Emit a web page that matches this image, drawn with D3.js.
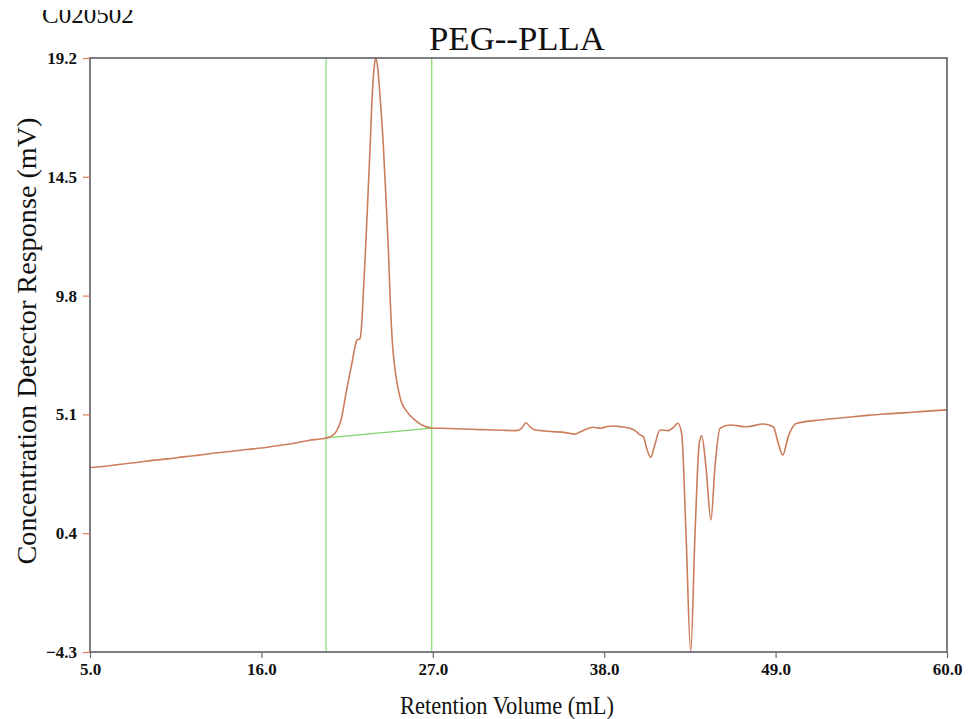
<!DOCTYPE html>
<html>
<head>
<meta charset="utf-8">
<script src="https://cdn.jsdelivr.net/npm/d3@7"></script>
<style>
  body { margin: 0; background: #fff; }
  text { font-family: "Liberation Serif", "Times New Roman", serif; fill: #111; }
</style>
</head>
<body>
<svg id="chart" width="968" height="719"></svg>
<script>
// retention volume (mL) and detector response (mV)
const volume = [5.0, 6.0, 7.0, 8.0, 9.0, 10.0, 11.0, 12.0, 13.0, 14.0, 15.0, 16.0, 17.0, 18.0, 19.1, 19.8, 20.15,
  20.5, 20.83, 21.1, 21.47, 21.81, 22.0, 22.13, 22.33, 22.44, 22.55, 22.68, 22.82, 22.97, 23.12, 23.25, 23.34,
  23.45, 23.6, 23.82, 24.0, 24.15, 24.27, 24.4, 24.55, 24.75, 24.95, 25.35, 25.8, 26.3, 26.93,
  27.5, 28.5, 29.4, 30.5, 31.5, 32.38, 32.7, 32.98, 33.25, 33.56, 34.73, 35.5, 36.13, 36.45, 37.0, 37.3, 37.73,
  38.2, 38.58, 39.2, 39.66, 40.0, 40.3, 40.51, 40.75, 40.98, 41.25, 41.58, 42.11, 42.5, 42.72, 42.97, 43.25,
  43.55, 43.83, 44.1, 44.26, 44.53, 44.85, 45.11, 45.43, 46.07, 47.15, 48.21, 48.85, 49.17, 49.46, 49.81,
  50.35, 51.85, 53.0, 53.99, 55.0, 56.13, 57.2, 58.27, 59.2, 60.0];
const response = [3.00, 3.05, 3.13, 3.20, 3.28, 3.34, 3.42, 3.49, 3.57, 3.63, 3.71, 3.77, 3.86, 3.95, 4.08, 4.13, 4.17,
  4.24, 4.45, 4.85, 6.07, 7.13, 7.75, 8.04, 8.10, 8.70, 10.0, 11.6, 13.5, 15.6, 17.8, 18.9, 19.2,
  18.9, 17.8, 15.8, 13.6, 11.6, 9.6, 8.0, 7.0, 6.2, 5.65, 5.2, 4.9, 4.68, 4.56,
  4.55, 4.53, 4.51, 4.49, 4.47, 4.46, 4.55, 4.77, 4.60, 4.48, 4.42, 4.38, 4.32, 4.40, 4.55, 4.59, 4.55,
  4.62, 4.64, 4.60, 4.55, 4.45, 4.29, 4.22, 3.70, 3.40, 3.90, 4.48, 4.46, 4.62, 4.75, 4.35, 0.40,
  -4.30, 0.40, 3.96, 4.25, 3.03, 0.92, 3.03, 4.55, 4.68, 4.61, 4.72, 4.61, 3.96, 3.49, 4.22,
  4.75, 4.88, 4.95, 5.01, 5.07, 5.12, 5.16, 5.21, 5.25, 5.28];

const xTicks = [5.0, 16.0, 27.0, 38.0, 49.0, 60.0];
const yTicks = [-4.3, 0.4, 5.1, 9.8, 14.5, 19.2];
const peakLimits = [20.15, 26.93];          // integration limits (green)
const peakBaseline = [[20.15, 4.17], [26.93, 4.56]];

const margin = {top: 58, right: 21, bottom: 67, left: 90};
const W = 968, H = 719;

const svg = d3.select("#chart");

const x = d3.scaleLinear().domain([5, 60]).range([margin.left, W - margin.right]);
const y = d3.scaleLinear().domain([-4.3, 19.2]).range([H - margin.bottom, margin.top]);

// sample id, cut off at the top of the scan
svg.append("clipPath").attr("id", "topcut")
  .append("rect").attr("x", 0).attr("y", 10).attr("width", 300).attr("height", 30);
svg.append("text")
  .attr("x", 42).attr("y", 23)
  .attr("clip-path", "url(#topcut)")
  .style("font-size", "25px")
  .text("C020502");

svg.append("text")
  .attr("x", 517).attr("y", 50)
  .attr("text-anchor", "middle")
  .attr("textLength", 176).attr("lengthAdjust", "spacingAndGlyphs")
  .style("font-size", "34px")
  .text("PEG--PLLA");

// green integration marks
const g = svg.append("g");
g.selectAll(".limit")
  .data(peakLimits)
  .join("line")
    .attr("class", "limit")
    .attr("x1", d => x(d)).attr("x2", d => x(d))
    .attr("y1", y(19.2)).attr("y2", y(-4.3))
    .attr("stroke", "#8edc78").attr("stroke-width", 1.3);
g.append("line")
  .attr("x1", x(peakBaseline[0][0])).attr("y1", y(peakBaseline[0][1]))
  .attr("x2", x(peakBaseline[1][0])).attr("y2", y(peakBaseline[1][1]))
  .attr("stroke", "#7fd46a").attr("stroke-width", 1.3);

// trace
const line = d3.line()
  .curve(d3.curveMonotoneX)
  .x((d, i) => x(volume[i]))
  .y(d => y(d));

g.append("path")
  .datum(response)
  .attr("d", line)
  .attr("fill", "none")
  .attr("stroke", "#cc7d5c")
  .attr("stroke-width", 1.6);

// frame
svg.append("rect")
  .attr("x", margin.left).attr("y", margin.top)
  .attr("width", W - margin.right - margin.left)
  .attr("height", H - margin.bottom - margin.top)
  .attr("fill", "none")
  .attr("stroke", "#5a5f66").attr("stroke-width", 1.6);

// axes
const xAxis = d3.axisBottom(x).tickValues(xTicks).tickFormat(d3.format(".1f")).tickSize(6).tickPadding(5);
const yAxis = d3.axisLeft(y).tickValues(yTicks).tickFormat(d3.format(".1f")).tickSize(7).tickPadding(6);

const gx = svg.append("g").attr("transform", `translate(0,${H - margin.bottom})`).call(xAxis);
const gy = svg.append("g").attr("transform", `translate(${margin.left},0)`).call(yAxis);

gx.select(".domain").remove();
gy.select(".domain").remove();
gx.selectAll(".tick line").attr("stroke", "#6a6a70").attr("stroke-width", 1.2);
gy.selectAll(".tick line").attr("stroke", "#e07a55").attr("stroke-width", 1.2);
[gx, gy].forEach(a => a.selectAll(".tick text")
  .attr("fill", "#111")
  .style("font-family", "'Liberation Serif', serif")
  .style("font-size", "17px")
  .style("font-weight", "bold"));

svg.append("text")
  .attr("x", 507).attr("y", 714)
  .attr("text-anchor", "middle")
  .attr("textLength", 214).attr("lengthAdjust", "spacingAndGlyphs")
  .style("font-size", "26px")
  .text("Retention Volume (mL)");

svg.append("text")
  .attr("transform", "translate(36,341) rotate(-90)")
  .attr("text-anchor", "middle")
  .attr("textLength", 447).attr("lengthAdjust", "spacingAndGlyphs")
  .style("font-size", "27px")
  .text("Concentration Detector Response (mV)");
</script>
</body>
</html>
